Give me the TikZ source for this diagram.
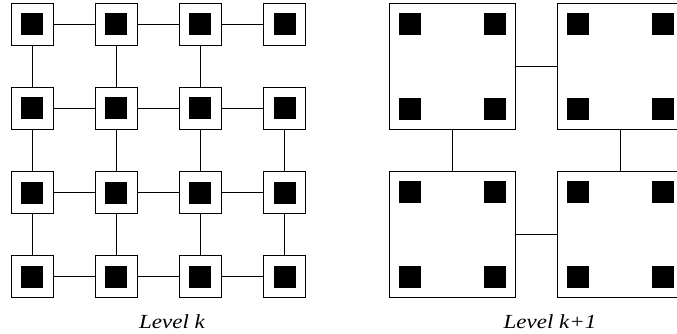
\documentclass[tikz,border=0pt]{standalone}
\usepackage{fontspec}
\setmainfont{Liberation Serif}
\newfontfamily\lblfont[FakeStretch=1.15]{Liberation Serif}
\begin{document}
\begin{tikzpicture}[x=1pt,y=-1pt,
  cell/.style={draw,line width=0.9pt,fill=white,minimum size=42pt,inner sep=0pt},
  big/.style={draw,line width=0.9pt,fill=white,minimum size=126pt,inner sep=0pt},
  dot/.style={fill=black,minimum size=22pt,inner sep=0pt},
  link/.style={line width=0.9pt},
  lbl/.style={font=\lblfont\fontsize{20}{24}\selectfont\itshape,anchor=base,inner sep=0pt}]
\useasboundingbox (0,0) rectangle (677,334);
% left grid
\foreach \i/\x in {0/32,1/116,2/200,3/284.5}{
  \foreach \j/\y in {0/24.3,1/108.3,2/192.5,3/276.7}{
    \node[cell] (c\i\j) at (\x,\y) {};
    \node[dot] (d\i\j) at (\x,\y) {};
  }
}
\foreach \j in {0,1,2,3}{
  \draw[link] (c0\j) -- (c1\j);
  \draw[link] (c1\j) -- (c2\j);
  \draw[link] (c2\j) -- (c3\j);
}
\foreach \i in {0,1,2}{\draw[link] (c\i0) -- (c\i1);}
\foreach \i in {0,1,2,3}{
  \draw[link] (c\i1) -- (c\i2);
  \draw[link] (c\i2) -- (c\i3);
}
\node[lbl] (lk) at (172,328) {Level k};
% right
\foreach \n/\x/\y in {TL/452.5/66.3,TR/620.7/66.3,BL/452.5/234.7,BR/620.7/234.7}{
  \node[big] (\n) at (\x,\y) {};
  \node[dot] (\n a) at ([xshift=21pt,yshift=-21pt]\n.north west) {};
  \node[dot] (\n b) at ([xshift=-21pt,yshift=-21pt]\n.north east) {};
  \node[dot] (\n c) at ([xshift=21pt,yshift=21pt]\n.south west) {};
  \node[dot] (\n d) at ([xshift=-21pt,yshift=21pt]\n.south east) {};
}
\draw[link] (TL) -- (TR);
\draw[link] (BL) -- (BR);
\draw[link] (TL) -- (BL);
\draw[link] (TR) -- (BR);
\node[lbl] (lk1) at (550,328) {Level k+1};
\end{tikzpicture}
\end{document}
